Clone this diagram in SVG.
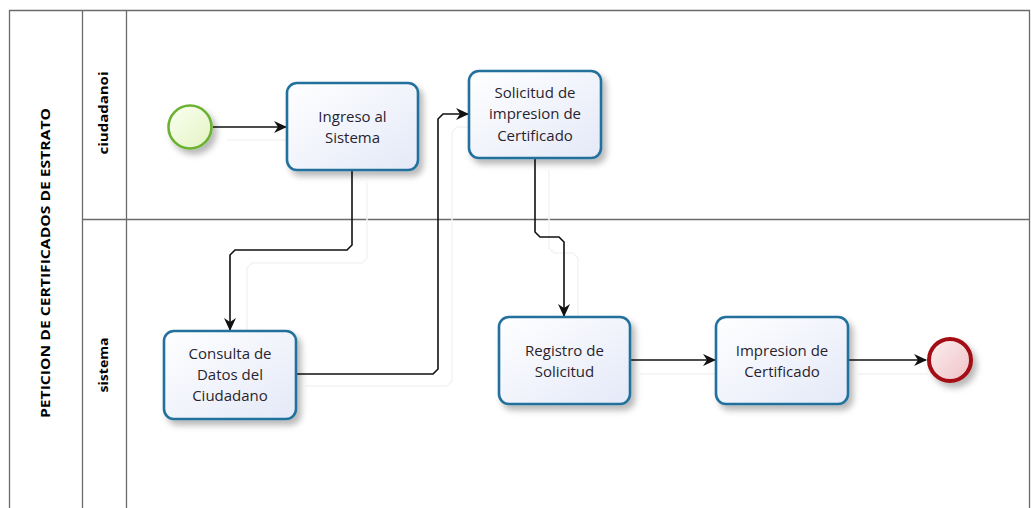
<svg xmlns="http://www.w3.org/2000/svg" width="1031" height="508" viewBox="0 0 1031 508">
  <defs>
    <linearGradient id="taskFill" x1="0" y1="0" x2="1" y2="1">
      <stop offset="0" stop-color="#ffffff"/>
      <stop offset="1" stop-color="#e4e9f8"/>
    </linearGradient>
    <linearGradient id="startFill" x1="0" y1="0" x2="1" y2="1">
      <stop offset="0" stop-color="#fbfff2"/>
      <stop offset="1" stop-color="#e2f3c2"/>
    </linearGradient>
    <linearGradient id="endFill" x1="0" y1="0" x2="1" y2="1">
      <stop offset="0" stop-color="#fcf0f1"/>
      <stop offset="1" stop-color="#eec0c4"/>
    </linearGradient>
    <filter id="shadow" x="-20%" y="-20%" width="150%" height="150%">
      <feDropShadow dx="4" dy="5" stdDeviation="3" flood-color="#000" flood-opacity="0.28"/>
    </filter>
    <marker id="arrow" markerUnits="userSpaceOnUse" markerWidth="14" markerHeight="14" refX="12" refY="7" orient="auto">
      <path d="M0,1 L13,7 L0,13 L4,7 Z" fill="#111"/>
    </marker>
    <style>
      .pool { fill: none; stroke: #6b6b6b; stroke-width: 1.3; }
      .task { fill: url(#taskFill); stroke: #23719c; stroke-width: 2.6; filter: url(#shadow); }
      .label { font-family: "Open Sans", "Noto Sans", sans-serif; font-size: 15px; fill: #2a1f2e; text-anchor: middle; }
      .head { font-family: "Open Sans", "Noto Sans", sans-serif; font-size: 13px; font-weight: bold; fill: #000; text-anchor: middle; }
      .flow { fill: none; stroke: #111; stroke-width: 1.6; marker-end: url(#arrow); }
      .ghost { fill: none; stroke: #f3f3f3; stroke-width: 1.5; }
    </style>
  </defs>

  <rect width="1031" height="508" fill="#ffffff"/>

  <!-- pool and lanes -->
  <g id="pool">
    <path class="pool" d="M9.5,520 V10.5 H1029.5 V520"/>
    <line class="pool" x1="82.5" y1="10.5" x2="82.5" y2="520"/>
    <line class="pool" x1="126.5" y1="10.5" x2="126.5" y2="520"/>
    <line class="pool" x1="82.5" y1="219.5" x2="1029.5" y2="219.5"/>
    <text class="head" transform="translate(50,263) rotate(-90)" textLength="310" lengthAdjust="spacingAndGlyphs">PETICION DE CERTIFICADOS DE ESTRATO</text>
  </g>
  <g id="lane-ciudadano">
    <text class="head" transform="translate(108,113) rotate(-90)" textLength="83" lengthAdjust="spacingAndGlyphs">ciudadanoi</text>
  </g>
  <g id="lane-sistema">
    <text class="head" transform="translate(108,365) rotate(-90)" textLength="55" lengthAdjust="spacingAndGlyphs">sistema</text>
  </g>

  <!-- faint connector shadows -->
  <g id="connector-shadows">
    <path class="ghost" d="M227,140 H290"/>
    <path class="ghost" d="M367,183 V258 L362,263 H252 L247,268 V330"/>
    <path class="ghost" d="M305,386 H447 L452,381 V132 L457,127 H470"/>
    <path class="ghost" d="M549,170 V248 L554,253 H573 L578,258 V318"/>
    <path class="ghost" d="M640,374 H718"/>
    <path class="ghost" d="M858,374 H928"/>
  </g>

  <!-- sequence flows -->
  <g id="connectors">
    <path class="flow" d="M213,127 H286"/>
    <path class="flow" d="M352,171 V245 L347,250 H235 L230,255 V330"/>
    <path class="flow" d="M297,374 H433 L438,369 V119 L443,114 H468"/>
    <path class="flow" d="M535,159 V232 L540,237 H559 L564,242 V316"/>
    <path class="flow" d="M631,360 H715"/>
    <path class="flow" d="M849,360 H926"/>
  </g>

  <g id="start">
    <circle cx="190" cy="127" r="21.5" fill="url(#startFill)" stroke="#6cb231" stroke-width="2.6" filter="url(#shadow)"/>
  </g>

  <g id="ingreso">
    <rect class="task" x="287" y="83" width="131" height="87" rx="10"/>
    <text class="label" x="352.5" y="122">Ingreso al</text>
    <text class="label" x="352.5" y="143">Sistema</text>
  </g>

  <g id="solicitud">
    <rect class="task" x="469" y="71" width="132" height="87" rx="10"/>
    <text class="label" x="535" y="98">Solicitud de</text>
    <text class="label" x="535" y="119">impresion de</text>
    <text class="label" x="535" y="141">Certificado</text>
  </g>

  <g id="consulta">
    <rect class="task" x="164" y="331" width="132" height="88" rx="10"/>
    <text class="label" x="230" y="359">Consulta de</text>
    <text class="label" x="230" y="380">Datos del</text>
    <text class="label" x="230" y="401">Ciudadano</text>
  </g>

  <g id="registro">
    <rect class="task" x="499" y="317" width="131" height="87" rx="10"/>
    <text class="label" x="564.5" y="356">Registro de</text>
    <text class="label" x="564.5" y="377">Solicitud</text>
  </g>

  <g id="impresion">
    <rect class="task" x="716" y="317" width="132" height="87" rx="10"/>
    <text class="label" x="782" y="356">Impresion de</text>
    <text class="label" x="782" y="377">Certificado</text>
  </g>

  <g id="end">
    <circle cx="950" cy="360" r="21" fill="url(#endFill)" stroke="#a30d12" stroke-width="4" filter="url(#shadow)"/>
  </g>
</svg>
